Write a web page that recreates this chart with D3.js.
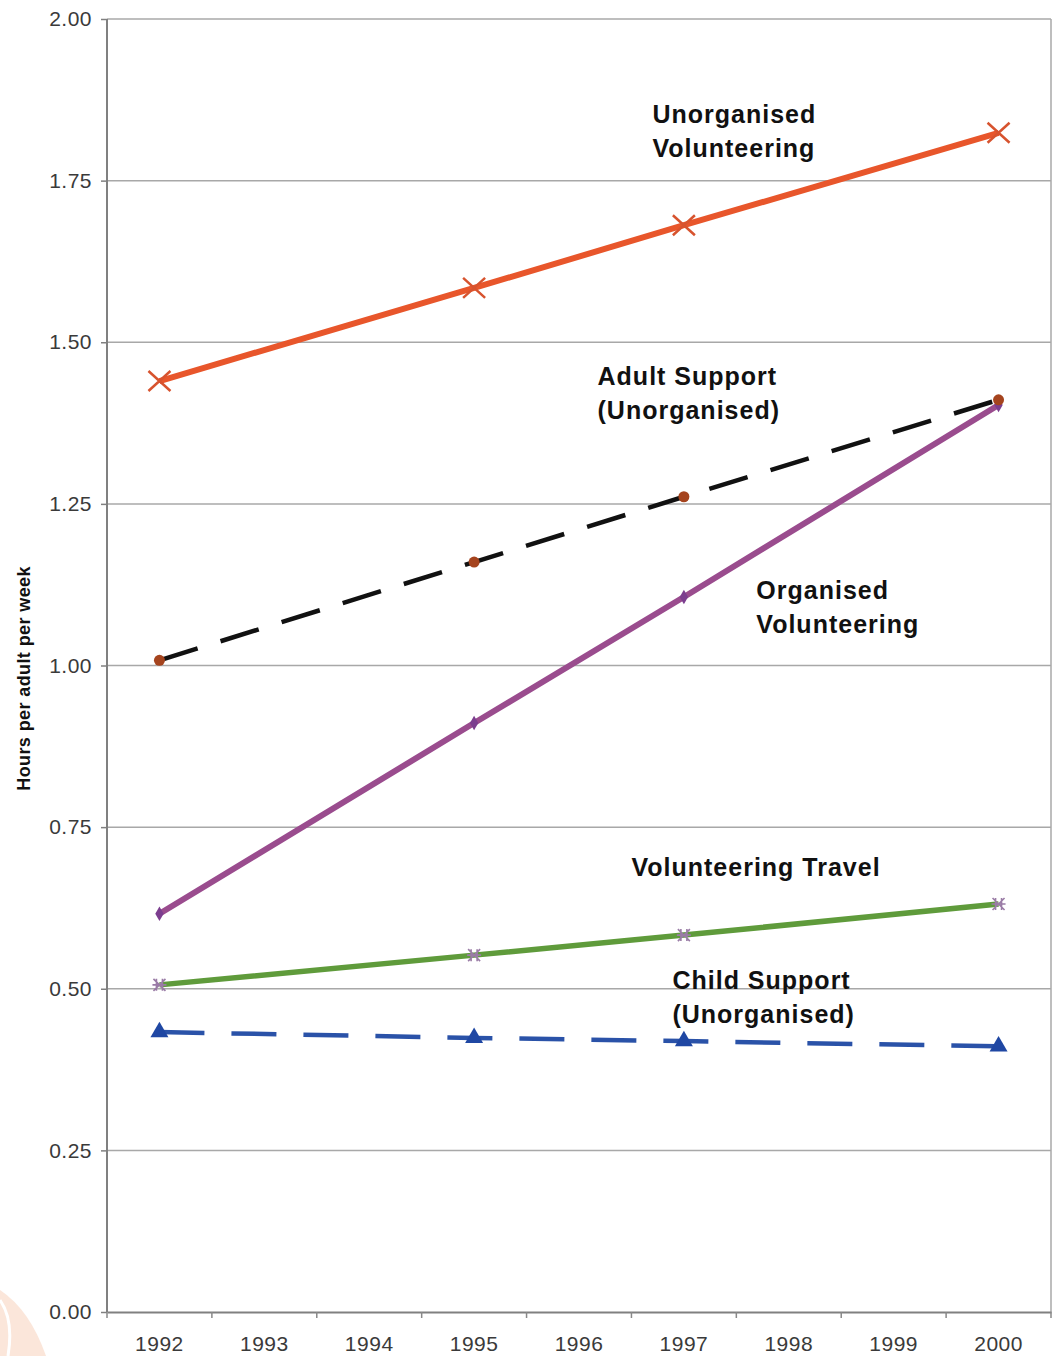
<!DOCTYPE html>
<html>
<head>
<meta charset="utf-8">
<script src="https://cdn.jsdelivr.net/npm/d3@7"></script>
<style>
  body { margin: 0; background: #fff; }
  svg { display: block; }
</style>
</head>
<body>
<div id="chart"></div>
<script>
// chart data
var years = ["1992", "1993", "1994", "1995", "1996", "1997", "1998", "1999", "2000"];
var yTicks = [0, 0.25, 0.5, 0.75, 1.0, 1.25, 1.5, 1.75, 2.0];
var dataYears = ["1992", "1995", "1997", "2000"];
var unorgVol = [1.44, 1.584, 1.681, 1.824];
var adultSupport = [1.008, 1.160, 1.261, 1.411];
var orgVol = [0.616, 0.911, 1.106, 1.403];
var volTravel = [0.506, 0.552, 0.583, 0.631];
var childSupport = [0.433, 0.424, 0.419, 0.411];

var W = 1060, H = 1356;
var margin = {left: 107, right: 9, top: 19, bottom: 44};

var svg = d3.select("#chart").append("svg")
	.attr("width", W).attr("height", H);

// faint decoration at bottom-left corner
svg.append("path")
	.attr("d", "M0,1356 L0,1290 Q30,1310 46,1356 Z")
	.attr("fill", "#fbe6da");
svg.append("path")
	.attr("d", "M8,1356 Q14,1320 0,1300")
	.attr("fill", "none").attr("stroke", "#fff").attr("stroke-width", 3);

var x = d3.scaleBand().domain(years)
	.range([margin.left, W - margin.right]);
var y = d3.scaleLinear().domain([0, 2])
	.range([H - margin.bottom, margin.top]);

var cx = function(yr){ return x(yr) + x.bandwidth() / 2; };

// grid lines
svg.append("g").selectAll("line")
	.data(yTicks.filter(function(t){ return t > 0; }))
	.enter().append("line")
	.attr("x1", margin.left).attr("x2", W - margin.right)
	.attr("y1", function(d){ return y(d); }).attr("y2", function(d){ return y(d); })
	.attr("stroke", "#a8a8a8").attr("stroke-width", 1.5);

// right border
svg.append("line")
	.attr("x1", W - margin.right).attr("x2", W - margin.right)
	.attr("y1", margin.top).attr("y2", H - margin.bottom)
	.attr("stroke", "#a8a8a8").attr("stroke-width", 1.5);

// axes
var yAxis = d3.axisLeft(y).tickValues(yTicks)
	.tickFormat(d3.format(".2f")).tickSize(6).tickPadding(9);
var gy = svg.append("g")
	.attr("transform", "translate(" + margin.left + ",0)")
	.call(yAxis);

var xAxis = d3.axisBottom(x).tickSize(0).tickPadding(24);
var gx = svg.append("g")
	.attr("transform", "translate(0," + (H - margin.bottom) + ")")
	.call(xAxis);

// x ticks sit between categories
gx.selectAll(".bound").data(d3.range(years.length + 1))
	.enter().append("line").attr("class", "bound")
	.attr("x1", function(i){ return margin.left + i * x.step(); })
	.attr("x2", function(i){ return margin.left + i * x.step(); })
	.attr("y1", 0).attr("y2", 6)
	.attr("stroke", "#888").attr("stroke-width", 1.5);

[gx, gy].forEach(function(g){
	g.select(".domain").attr("stroke", "#808080").attr("stroke-width", 2);
	g.selectAll(".tick line").attr("stroke", "#808080").attr("stroke-width", 1.5);
	g.selectAll("text")
		.attr("fill", "#3a3a3a")
		.style("font-family", "'Liberation Sans', Arial, sans-serif")
		.style("font-size", "21px")
		.style("letter-spacing", "0.5px");
});
gy.select(".domain").attr("d", "M0," + (H - margin.bottom) + "V" + margin.top);

svg.append("text")
	.attr("transform", "translate(30," + y(0.98) + ") rotate(-90)")
	.attr("text-anchor", "middle")
	.style("font-family", "'Liberation Sans', Arial, sans-serif")
	.style("font-size", "18px").style("font-weight", "bold")
	.style("letter-spacing", "0.4px")
	.attr("fill", "#111")
	.text("Hours per adult per week");

// series
var series = [
	{name: "child", values: childSupport, color: "#2a52a8", width: 4.5, dash: "45,27", marker: "triangle", mcolor: "#1f47a3"},
	{name: "travel", values: volTravel, color: "#5f9b3b", width: 5.5, dash: null, marker: "star", mcolor: "#9a7ca6"},
	{name: "org", values: orgVol, color: "#9a4c8e", width: 6, dash: null, marker: "diamond", mcolor: "#7c3e8f"},
	{name: "adult", values: adultSupport, color: "#111", width: 4.5, dash: "40,24", marker: "dot", mcolor: "#a5441e"},
	{name: "unorg", values: unorgVol, color: "#e8562b", width: 6, dash: null, marker: "x", mcolor: "#d7532e"}
];

var line = d3.line()
	.x(function(d){ return cx(d.year); })
	.y(function(d){ return y(d.v); });

series.forEach(function(s){
	var pts = dataYears.map(function(yr, i){ return {year: yr, v: s.values[i]}; });
	svg.append("path")
		.datum(pts)
		.attr("d", line)
		.attr("fill", "none")
		.attr("stroke", s.color)
		.attr("stroke-width", s.width)
		.attr("stroke-dasharray", s.dash)
		.attr("stroke-linecap", "butt");

	var g = svg.append("g");
	pts.forEach(function(p){
		var px = cx(p.year), py = y(p.v);
		if(s.marker === "triangle"){
			g.append("path")
				.attr("d", d3.symbol(d3.symbolTriangle, 140)())
				.attr("transform", "translate(" + px + "," + py + ")")
				.attr("fill", s.mcolor);
		}
		else if(s.marker === "dot"){
			g.append("circle").attr("cx", px).attr("cy", py).attr("r", 5.5)
				.attr("fill", s.mcolor);
		}
		else if(s.marker === "diamond"){
			g.append("path")
				.attr("d", d3.symbol(d3.symbolDiamond, 60)())
				.attr("transform", "translate(" + px + "," + py + ")")
				.attr("fill", s.mcolor);
		}
		else if(s.marker === "x"){
			g.append("path")
				.attr("d", "M-11,-10L11,10M-11,10L11,-10")
				.attr("transform", "translate(" + px + "," + py + ")")
				.attr("stroke", s.mcolor).attr("stroke-width", 2.5).attr("fill", "none");
		}
		else if(s.marker === "star"){
			g.append("path")
				.attr("d", "M-6,-6L6,6M-6,6L6,-6M-7,0L7,0M-3,-6L-3,6M3,-6L3,6")
				.attr("transform", "translate(" + px + "," + py + ")")
				.attr("stroke", s.mcolor).attr("stroke-width", 1.6).attr("fill", "none");
		}
	});
});

// series labels
var labels = [
	{lines: ["Unorganised", "Volunteering"], year: "1997", dx: 21, v: 1.839},
	{lines: ["Adult Support", "(Unorganised)"], year: "1996", dx: 71, v: 1.434},
	{lines: ["Organised", "Volunteering"], year: "1998", dx: 20, v: 1.103},
	{lines: ["Volunteering Travel"], year: "1997", dx: 0, v: 0.674},
	{lines: ["Child Support", "(Unorganised)"], year: "1997", dx: 41, v: 0.4996}
];
labels.forEach(function(l){
	var t = svg.append("text")
		.attr("x", x(l.year) + l.dx)
		.attr("y", y(l.v))
		.attr("fill", "#111")
		.style("font-family", "'Liberation Sans', Arial, sans-serif")
		.style("font-size", "25px").style("font-weight", "bold")
		.style("letter-spacing", "1px");
	l.lines.forEach(function(s, i){
		t.append("tspan").attr("x", x(l.year) + l.dx)
			.attr("dy", i === 0 ? 0 : 34).text(s);
	});
});
</script>
</body>
</html>
